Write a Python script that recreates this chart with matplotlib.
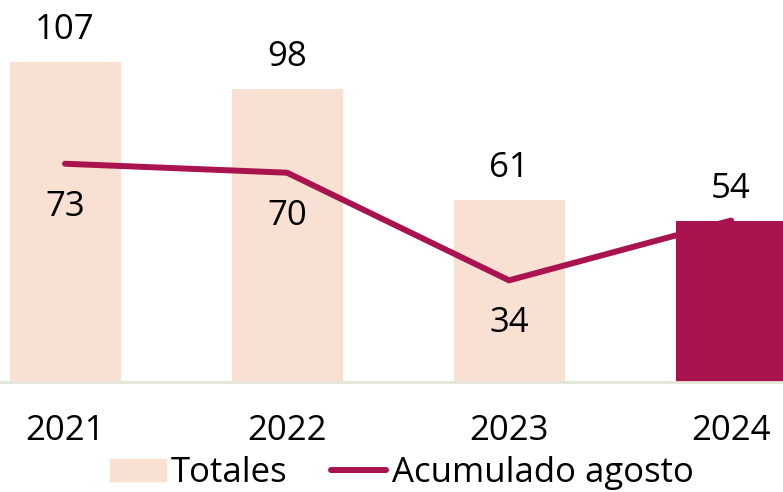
import numpy as np
import matplotlib
matplotlib.use("Agg")
import matplotlib.pyplot as plt
from matplotlib.patches import Patch

years = ["2021", "2022", "2023", "2024"]
totales = [107, 98, 61, 54]
acumulado = [73, 70, 34, 54]

LIGHT = "#f8e0d2"
DARK = "#a81350"
FS = 25

plt.rcParams['font.family'] = ['Open Sans', 'DejaVu Sans']

fig = plt.figure(figsize=(7.83, 4.92), dpi=100)
ax = fig.add_axes([0, 110 / 492, 1, 382 / 492])

x = np.arange(len(years))
colors = [LIGHT] * (len(years) - 1) + [DARK]
bars = ax.bar(x, totales, width=0.5, color=colors, zorder=1)
line, = ax.plot(x, acumulado, color=DARK, lw=4.3, solid_capstyle='round', zorder=2)

# etiquetas de totales encima de las barras
for xi, v in zip(x, totales):
    ax.annotate(str(v), (xi, v), xytext=(0, 23), textcoords='offset points',
                ha='center', va='center', fontsize=FS)

# etiquetas del acumulado debajo de la linea (menos el último)
for xi, v in zip(x[:-1], acumulado[:-1]):
    ax.annotate(str(v), (xi, v), xytext=(0, -31), textcoords='offset points',
                ha='center', va='center', fontsize=FS)

ax.set_xlim(-0.293, 3.234)
ax.set_ylim(0, 382 / 2.99)
ax.set_xticks(x)
ax.set_xticklabels(years, fontsize=FS)
ax.tick_params(axis='x', length=0, pad=23)
ax.set_yticks([])
for s in ['top', 'right', 'left']:
    ax.spines[s].set_visible(False)
ax.spines['bottom'].set_color("#e3e6d8")
ax.spines['bottom'].set_linewidth(2)

handles = [Patch(color=LIGHT), line]
fig.legend(handles, ["Totales", "Acumulado agosto"], loc='center',
           bbox_to_anchor=(0.513, 19 / 492), ncol=2, frameon=False,
           fontsize=FS, handlelength=1.6, handleheight=0.58,
           handletextpad=0.15, columnspacing=1.25, borderpad=0)

fig.savefig("out.png", dpi=100)
